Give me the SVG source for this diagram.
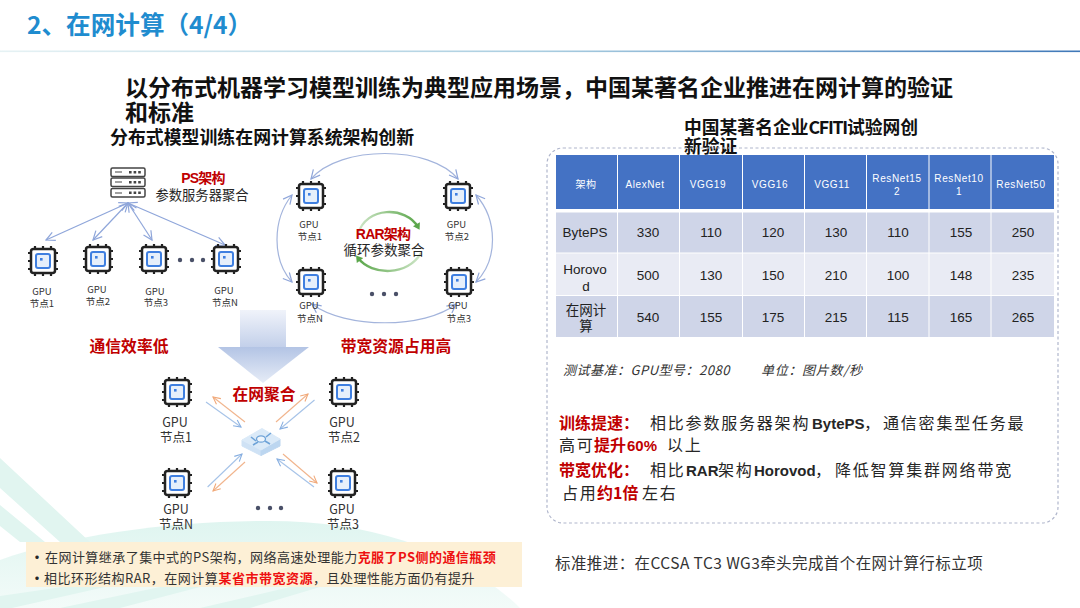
<svg xmlns="http://www.w3.org/2000/svg" xmlns:xlink="http://www.w3.org/1999/xlink" width="1080" height="608" viewBox="0 0 1080 608">
<style>
text{font-family:"Noto Sans CJK SC","Liberation Sans",sans-serif;fill:#262626}
.lat{font-family:"Liberation Sans","Noto Sans CJK SC",sans-serif}
.m{text-anchor:middle}
.b{font-weight:700}
.r{fill:#c00000;font-weight:700}
.rb{fill:#ee1111;font-weight:700}
.g{font-size:9.5px;text-anchor:middle;fill:#333}
.gl{font-size:12.5px;text-anchor:middle;fill:#333}
.th{font-size:10px;fill:#fff;text-anchor:middle;font-family:"Liberation Sans","Noto Sans CJK SC",sans-serif;letter-spacing:.6px}
.td{font-size:13.500px;text-anchor:middle;fill:#222;font-family:"Liberation Sans","Noto Sans CJK SC",sans-serif}
.ps{fill:none;stroke:#8fa6da;stroke-width:1.2;marker-end:url(#ab);marker-start:url(#abs)}
.ring{fill:none;stroke:#a3b4dc;stroke-width:1.2;marker-end:url(#ab);marker-start:url(#abs)}
.or{stroke:#f1b48c;stroke-width:1.1;fill:none;marker-end:url(#ao)}
.bl{stroke:#a6c3e8;stroke-width:1.1;fill:none;marker-end:url(#abl)}
.dot{fill:#4a5068}
.rar{fill:none;stroke-width:2.400}
.f{font-size:16px;letter-spacing:1.800px}
.fl{font-size:15px;font-weight:700;letter-spacing:0;font-family:"Liberation Sans","Noto Sans CJK SC",sans-serif}
</style>
<defs>
<linearGradient id="line" x1="0" x2="1" y1="0" y2="0"><stop offset="0" stop-color="#e6f2f4"/><stop offset=".5" stop-color="#a9cde0"/><stop offset="1" stop-color="#3f78b8"/></linearGradient>
<linearGradient id="shaft" x1="0" x2="0" y1="0" y2="1"><stop offset="0" stop-color="#f0f3fa"/><stop offset="1" stop-color="#c3d0ea"/></linearGradient>
<linearGradient id="head" x1="0" x2="0" y1="0" y2="1"><stop offset="0" stop-color="#b3c4e5"/><stop offset="1" stop-color="#e6ecf7"/></linearGradient>
<linearGradient id="hill" x1="0" x2="0" y1="0" y2="1"><stop offset="0" stop-color="#dff5f0"/><stop offset="1" stop-color="#f3fbf9"/></linearGradient>
<linearGradient id="grn" x1="0" x2="1" y1="0" y2="0"><stop offset="0" stop-color="#cfe6c8"/><stop offset="1" stop-color="#5aa64a"/></linearGradient>
<linearGradient id="grn2" x1="0" x2="1" y1="0" y2="0"><stop offset="0" stop-color="#5aa64a"/><stop offset="1" stop-color="#cfe6c8"/></linearGradient>
<marker id="ab" viewBox="0 0 10 10" refX="9" refY="5" markerWidth="11" markerHeight="11" markerUnits="userSpaceOnUse" orient="auto"><path d="M1 1L9 5L1 9" fill="none" stroke="#8fa6da" stroke-width="1.1"/></marker>
<marker id="abs" viewBox="0 0 10 10" refX="1" refY="5" markerWidth="11" markerHeight="11" markerUnits="userSpaceOnUse" orient="auto"><path d="M9 1L1 5L9 9" fill="none" stroke="#8fa6da" stroke-width="1.1"/></marker>
<marker id="ao" viewBox="0 0 10 10" refX="9" refY="5" markerWidth="9" markerHeight="9" markerUnits="userSpaceOnUse" orient="auto"><path d="M1 1L9 5L1 9" fill="none" stroke="#f1a878" stroke-width="1.2"/></marker>
<marker id="abl" viewBox="0 0 10 10" refX="9" refY="5" markerWidth="9" markerHeight="9" markerUnits="userSpaceOnUse" orient="auto"><path d="M1 1L9 5L1 9" fill="none" stroke="#86aee0" stroke-width="1.2"/></marker>
<marker id="ag" viewBox="0 0 10 10" refX="5" refY="5" markerWidth="8" markerHeight="8" markerUnits="userSpaceOnUse" orient="auto"><path d="M1 0L9 5L1 10Z" fill="#5aa64a"/></marker>
<g id="chip">
<path d="M-8-15V-11M0-15V-11M8-15V-11M-8 11V15M0 11V15M8 11V15M-15-8H-11M-15 0H-11M-15 8H-11M11-8H15M11 0H15M11 8H15" stroke="#222" stroke-width="2.200" fill="none"/>
<rect x="-12" y="-12" width="24" height="24" rx="2.500" fill="#fff" stroke="#222" stroke-width="2.500"/>
<rect x="-7" y="-7" width="14" height="14" rx="2" fill="#e6effb" stroke="#3f7fe0" stroke-width="2"/>
<rect x="-3" y="-3" width="2.600" height="2.600" fill="#3f7fe0"/>
</g>
</defs>

<rect width="1080" height="608" fill="#fff"/>
<g id="background">
<path d="M0 608V560C70 535 170 521 270 521C370 521 460 550 520 608Z" fill="url(#hill)"/>
<path d="M0 458L90 542H60L0 488ZM0 505L45 542H20L0 526ZM0 596L62 587H105L12 608H0ZM60 608L160 587H200L120 608ZM200 608L290 587H320L250 608Z" fill="#e1f5f0"/>
</g>

<g id="header">
<text x="27" y="34" font-size="24.600" class="b" style="fill:#1f8ccf">2、在网计算（4/4）</text>
<rect x="0" y="50.500" width="1080" height="1.600" fill="url(#line)"/>
</g>

<g id="headings">
<text x="125" y="96" font-size="23" class="b" style="fill:#111">以分布式机器学习模型训练为典型应用场景，中国某著名企业推进在网计算的验证</text>
<text x="125" y="121" font-size="23" class="b" style="fill:#111">和标准</text>
<text x="110" y="144" font-size="17.900" class="b" style="fill:#111">分布式模型训练在网计算系统架构创新</text>
<text x="684" y="134" font-size="17.800" class="b" style="fill:#111">中国某著名企业<tspan letter-spacing="-1.300">CFITI</tspan>试验网创</text>
<text x="684" y="153" font-size="17.800" class="b" style="fill:#111">新验证</text>
</g>

<g id="connectors">
<path class="ps" d="M128 203L46 240"/>
<path class="ps" d="M128 203L93 240"/>
<path class="ps" d="M128 203L152 240"/>
<path class="ps" d="M128 203L225 245"/>
<path class="ring" d="M311 179C340 145 430 145 458 179"/>
<path class="ring" d="M292 195C272 220 272 260 292 282"/>
<path class="ring" d="M476 195C498 220 498 260 476 282"/>
<path class="ring" d="M312 304C345 329 425 329 456 304"/>
<path class="or" d="M245 422L213 397"/>
<path class="bl" d="M206 402L241 427"/>
<path class="or" d="M276 422L308 394"/>
<path class="bl" d="M314.500 400L280 429"/>
<path class="bl" d="M207.600 487L242 454"/>
<path class="or" d="M245 462L213 491"/>
<path class="or" d="M283 454L317 483"/>
<path class="bl" d="M314 487L277 459"/>
<path class="rar" stroke="url(#grn)" marker-end="url(#ag)" d="M358 234C366 206 406 206 418 227"/>
<path class="rar" stroke="url(#grn2)" marker-end="url(#ag)" d="M421 253C408 276 372 276 358 258"/>
</g>

<g id="ps-server">
<g fill="#fff" stroke="#444" stroke-width="1.500">
<rect x="111" y="168" width="34" height="8.500" rx="1.500"/><rect x="111" y="178" width="34" height="8.500" rx="1.500"/><rect x="111" y="188.500" width="34" height="8.500" rx="1.500"/>
</g>
<path d="M115 172H122M115 182H122M115 193H122" stroke="#444" stroke-width="1.200"/>
<path d="M129 172.300h12M129 182.300h12M129 192.800h12" stroke="#444" stroke-width="2.600" stroke-dasharray="2.600 2"/>
<text x="203" y="183" font-size="14" class="m r lat" letter-spacing="-.8">PS架构</text>
<text x="202" y="200" font-size="13.300" class="m">参数服务器聚合</text>
</g>

<g id="ps-gpu1"><use href="#chip" x="43" y="261"/><text class="g" x="42" y="295">GPU</text><text class="g" x="42" y="307">节点1</text></g>
<g id="ps-gpu2"><use href="#chip" x="98" y="259"/><text class="g" x="97" y="293">GPU</text><text class="g" x="98" y="305">节点2</text></g>
<g id="ps-gpu3"><use href="#chip" x="154" y="259"/><text class="g" x="155" y="295">GPU</text><text class="g" x="156" y="306">节点3</text></g>
<g id="ps-gpun"><use href="#chip" x="226" y="259"/><text class="g" x="224" y="294">GPU</text><text class="g" x="225" y="306">节点N</text></g>
<g id="ps-dots"><circle class="dot" cx="180" cy="260" r="2.200"/><circle class="dot" cx="192" cy="260" r="2.200"/><circle class="dot" cx="203" cy="260" r="2.200"/></g>

<g id="rar-gpu1"><use href="#chip" x="311" y="196"/><text class="g" x="309" y="228">GPU</text><text class="g" x="310" y="240">节点1</text></g>
<g id="rar-gpu2"><use href="#chip" x="458" y="196"/><text class="g" x="456.500" y="228">GPU</text><text class="g" x="457" y="240">节点2</text></g>
<g id="rar-gpun"><use href="#chip" x="311" y="282"/><text class="g" x="309" y="309">GPU</text><text class="g" x="310" y="322">节点N</text></g>
<g id="rar-gpu3"><use href="#chip" x="459" y="282"/><text class="g" x="458" y="309">GPU</text><text class="g" x="459" y="322">节点3</text></g>
<g id="rar-label">
<text x="383" y="239" font-size="14" class="m r lat" letter-spacing="-.8">RAR架构</text>
<text x="384" y="255" font-size="13.500" class="m">循环参数聚合</text>
</g>
<g id="rar-dots"><circle class="dot" cx="372" cy="294" r="2.200"/><circle class="dot" cx="384" cy="294" r="2.200"/><circle class="dot" cx="396" cy="294" r="2.200"/></g>

<g id="big-arrow">
<rect x="240" y="310" width="46" height="37" fill="url(#shaft)"/>
<path d="M218 347H309L263 383Z" fill="url(#head)"/>
</g>
<text x="129" y="352" font-size="15.800" class="m r">通信效率低</text>
<text x="396" y="352" font-size="15.800" class="m r">带宽资源占用高</text>
<text x="264" y="400" font-size="15.800" class="m r">在网聚合</text>

<g id="inc-gpu1"><use href="#chip" x="177" y="392"/><text class="gl" x="175" y="427">GPU</text><text class="gl" x="176" y="442">节点1</text></g>
<g id="inc-gpu2"><use href="#chip" x="344" y="392"/><text class="gl" x="342" y="427">GPU</text><text class="gl" x="344" y="442">节点2</text></g>
<g id="inc-gpun"><use href="#chip" x="177" y="483"/><text class="gl" x="176" y="514">GPU</text><text class="gl" x="176" y="529">节点N</text></g>
<g id="inc-gpu3"><use href="#chip" x="343" y="483"/><text class="gl" x="342" y="514">GPU</text><text class="gl" x="343" y="529">节点3</text></g>
<g id="inc-dots"><circle class="dot" cx="258" cy="508" r="2.200"/><circle class="dot" cx="270" cy="508" r="2.200"/><circle class="dot" cx="281" cy="508" r="2.200"/></g>

<g id="switch">
<path d="M242 440V446L261 455.500V450Z" fill="#cfe2f5" stroke="#cfe2f5" stroke-linejoin="round"/>
<path d="M280 439V446L261 455.500V450Z" fill="#bcd6f0" stroke="#bcd6f0" stroke-linejoin="round"/>
<path d="M242 440L262 428.500L280 439L261 450Z" fill="#dbeaf8" stroke="#dbeaf8" stroke-linejoin="round"/>
<path d="M251 437L256 441M271 433L266 437M253 445L258 442M270 444L265 441" stroke="#6ea3d8" stroke-width="1.600" fill="none"/>
<ellipse cx="261" cy="439" rx="4.500" ry="3.200" fill="#eef5fc" stroke="#6ea3d8" stroke-width="1.300"/>
</g>

<g id="note">
<rect x="26" y="542" width="496" height="45" fill="#fdf0d6"/>
<text x="29" y="563" font-size="16">•</text>
<text x="45" y="562" font-size="13" letter-spacing=".45" style="fill:#333">在网计算继承了集中式的PS架构，网络高速处理能力<tspan class="rb">克服了PS侧的通信瓶颈</tspan></text>
<text x="29" y="584" font-size="16">•</text>
<text x="44" y="583" font-size="13" letter-spacing=".5" style="fill:#333">相比环形结构RAR，在网计算<tspan class="rb">某省市带宽资源</tspan>，且处理性能方面仍有提升</text>
</g>

<g id="panel">
<rect x="547" y="148" width="511" height="375" rx="16" fill="none" stroke="#b0b6cc" stroke-width="1.200" stroke-dasharray="3 2.500"/>
</g>

<g id="table">
<g fill="#4472c4">
<rect x="556" y="155" width="61" height="54"/><rect x="618" y="155" width="61" height="54"/><rect x="680" y="155" width="62" height="54"/><rect x="743" y="155" width="61" height="54"/><rect x="805" y="155" width="61" height="54"/><rect x="867" y="155" width="61.500" height="54"/><rect x="929.500" y="155" width="61" height="54"/><rect x="991.500" y="155" width="62.500" height="54"/>
</g>
<g fill="#cfd5e8">
<rect x="556" y="212.500" width="61" height="40"/><rect x="618" y="212.500" width="61" height="40"/><rect x="680" y="212.500" width="62" height="40"/><rect x="743" y="212.500" width="61" height="40"/><rect x="805" y="212.500" width="61" height="40"/><rect x="867" y="212.500" width="61.500" height="40"/><rect x="929.500" y="212.500" width="61" height="40"/><rect x="991.500" y="212.500" width="62.500" height="40"/>
<rect x="556" y="296" width="61" height="41"/><rect x="618" y="296" width="61" height="41"/><rect x="680" y="296" width="62" height="41"/><rect x="743" y="296" width="61" height="41"/><rect x="805" y="296" width="61" height="41"/><rect x="867" y="296" width="61.500" height="41"/><rect x="929.500" y="296" width="61" height="41"/><rect x="991.500" y="296" width="62.500" height="41"/>
</g>
<g fill="#e9ebf4">
<rect x="556" y="253.500" width="61" height="41.500"/><rect x="618" y="253.500" width="61" height="41.500"/><rect x="680" y="253.500" width="62" height="41.500"/><rect x="743" y="253.500" width="61" height="41.500"/><rect x="805" y="253.500" width="61" height="41.500"/><rect x="867" y="253.500" width="61.500" height="41.500"/><rect x="929.500" y="253.500" width="61" height="41.500"/><rect x="991.500" y="253.500" width="62.500" height="41.500"/>
</g>
<text class="th" x="586" y="188">架构</text>
<text class="th" x="645" y="188">AlexNet</text>
<text class="th" x="708" y="188">VGG19</text>
<text class="th" x="770" y="188">VGG16</text>
<text class="th" x="832" y="188">VGG11</text>
<text class="th" x="897" y="182">ResNet15</text><text class="th" x="897" y="195">2</text>
<text class="th" x="959" y="182">ResNet10</text><text class="th" x="959" y="195">1</text>
<text class="th" x="1021" y="188">ResNet50</text>

<text class="td" x="585" y="237">BytePS</text>
<text class="td" x="648" y="237">330</text><text class="td" x="711" y="237">110</text><text class="td" x="773" y="237">120</text><text class="td" x="836" y="237">130</text><text class="td" x="898" y="237">110</text><text class="td" x="961" y="237">155</text><text class="td" x="1023" y="237">250</text>
<text class="td" x="585" y="274">Horovo</text><text class="td" x="586" y="291">d</text>
<text class="td" x="648" y="280">500</text><text class="td" x="711" y="280">130</text><text class="td" x="773" y="280">150</text><text class="td" x="836" y="280">210</text><text class="td" x="898" y="280">100</text><text class="td" x="961" y="280">148</text><text class="td" x="1023" y="280">235</text>
<text class="td" x="586" y="315">在网计</text><text class="td" x="586" y="331">算</text>
<text class="td" x="648" y="322">540</text><text class="td" x="711" y="322">155</text><text class="td" x="773" y="322">175</text><text class="td" x="836" y="322">215</text><text class="td" x="898" y="322">115</text><text class="td" x="961" y="322">165</text><text class="td" x="1023" y="322">265</text>
</g>

<g id="findings">
<text x="563" y="375" font-size="13" font-style="italic" letter-spacing=".5" style="fill:#333">测试基准：GPU型号：2080</text>
<text x="761" y="375" font-size="13" font-style="italic" letter-spacing=".7" style="fill:#333">单位：图片数/秒</text>
<text class="f" y="429"><tspan x="559" class="r" letter-spacing="0">训练提速：</tspan><tspan x="650">相比参数服务器架构</tspan><tspan x="812" class="fl">BytePS</tspan><tspan x="864">，</tspan><tspan x="883">通信密集型任务最</tspan></text>
<text class="f" y="451"><tspan x="559">高可</tspan><tspan x="594" class="r" letter-spacing="0">提升</tspan><tspan x="627" class="fl r">60%</tspan><tspan x="667">以上</tspan></text>
<text class="f" y="476"><tspan x="559" class="r" letter-spacing="0">带宽优化：</tspan><tspan x="650">相比</tspan><tspan x="686" class="fl">RAR</tspan><tspan x="718">架构</tspan><tspan x="754" class="fl">Horovod</tspan><tspan x="815">，</tspan><tspan x="835">降低智算集群网络带宽</tspan></text>
<text class="f" y="499"><tspan x="562">占用</tspan><tspan x="597" class="r" letter-spacing="0">约1倍</tspan><tspan x="642">左右</tspan></text>
</g>
<text id="standard" x="555" y="569" font-size="15.500" letter-spacing=".42" style="fill:#333">标准推进：在CCSA TC3 WG3牵头完成首个在网计算行标立项</text>
</svg>
